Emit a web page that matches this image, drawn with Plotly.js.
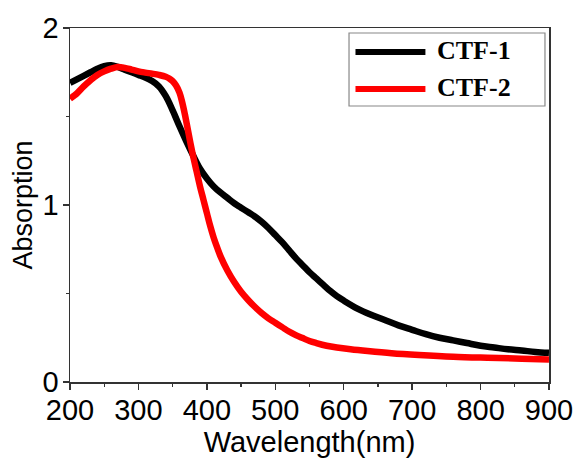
<!DOCTYPE html>
<html>
<head>
<meta charset="utf-8">
<script src="https://cdn.plot.ly/plotly-3.0.1.min.js"></script>
<style>html,body{margin:0;padding:0;background:#fff;}#chart{width:577px;height:462px;}</style>
</head>
<body>
<div id="chart"></div>
<script>
// CTF-1 (black)
const ctf1_wl = [200,210,220,230,240,250,260,270,280,290,300,310,320,330,340,350,360,370,380,390,400,410,420,430,440,450,460,470,480,490,500,510,520,530,540,550,560,570,580,590,600,620,640,660,680,700,720,740,760,780,800,820,840,860,880,900];
const ctf1_abs = [1.69,1.71,1.73,1.75,1.77,1.785,1.79,1.78,1.765,1.75,1.735,1.72,1.70,1.67,1.615,1.535,1.445,1.36,1.28,1.205,1.15,1.105,1.07,1.04,1.01,0.985,0.96,0.935,0.905,0.87,0.83,0.79,0.745,0.70,0.66,0.62,0.585,0.55,0.515,0.485,0.46,0.415,0.38,0.35,0.32,0.295,0.27,0.25,0.235,0.22,0.205,0.195,0.185,0.178,0.17,0.165];
// CTF-2 (red)
const ctf2_wl = [200,205,210,220,230,240,250,260,270,280,290,300,310,320,330,340,345,350,355,360,364,368,372,376,380,385,390,395,400,405,410,415,420,430,440,450,460,470,480,490,500,510,520,530,540,550,560,575,590,610,635,670,710,760,810,860,900];
const ctf2_abs = [1.60,1.615,1.63,1.67,1.705,1.735,1.755,1.77,1.78,1.775,1.765,1.755,1.748,1.742,1.735,1.725,1.715,1.70,1.675,1.635,1.58,1.51,1.43,1.35,1.275,1.19,1.105,1.03,0.955,0.88,0.815,0.76,0.71,0.63,0.565,0.51,0.465,0.425,0.39,0.36,0.335,0.31,0.285,0.265,0.248,0.232,0.22,0.205,0.195,0.185,0.175,0.163,0.153,0.143,0.137,0.132,0.127];
const seriesNames = ["CTF-1","CTF-2"];
const seriesColors = ["#000000","#ff0000"];
const xTicks = [200,300,400,500,600,700,800,900];
const yTicks = [0,1,2];

const traces = [
  {x: ctf1_wl, y: ctf1_abs, name: seriesNames[0], type: 'scatter', mode: 'lines', line: {color: seriesColors[0], width: 6.5, shape: 'spline', smoothing: 1}},
  {x: ctf2_wl, y: ctf2_abs, name: seriesNames[1], type: 'scatter', mode: 'lines', line: {color: seriesColors[1], width: 6.5, shape: 'spline', smoothing: 1}}
];

const sansFont = {family: '"Liberation Sans", Arial, sans-serif', size: 29, color: '#000'};
const legFont = {family: '"Liberation Serif", "Times New Roman", serif', size: 26, color: '#000', weight: 'bold'};

const layout = {
  width: 577, height: 462,
  margin: {l: 70, r: 28, t: 28, b: 80},
  paper_bgcolor: '#fff', plot_bgcolor: '#fff',
  showlegend: false,
  xaxis: {
    range: [200, 900], tickvals: xTicks, ticktext: xTicks.map(String),
    ticks: 'outside', ticklen: 6, tickwidth: 1.3, tickcolor: '#333',
    minor: {dtick: 50, tick0: 200, ticks: 'outside', ticklen: 3, tickwidth: 1.2, tickcolor: '#333', showgrid: false},
    showline: true, linecolor: '#333', linewidth: 1.5, mirror: true,
    showgrid: false, zeroline: false, tickfont: sansFont, ticklabelstandoff: -4,
    title: {text: 'Wavelength(nm)', font: {family: sansFont.family, size: 29, color: '#000'}, standoff: 0}
  },
  yaxis: {
    range: [0, 2], tickvals: yTicks, ticktext: yTicks.map(String),
    ticks: 'outside', ticklen: 6, tickwidth: 1.3, tickcolor: '#333',
    minor: {dtick: 0.5, tick0: 0, ticks: 'outside', ticklen: 3, tickwidth: 1.2, tickcolor: '#333', showgrid: false},
    showline: true, linecolor: '#333', linewidth: 1.5, mirror: true,
    showgrid: false, zeroline: false, tickfont: sansFont, ticklabelstandoff: -2,
    title: {text: 'Absorption', font: {family: sansFont.family, size: 27, color: '#000'}, standoff: 2}
  },
  shapes: [
    {type: 'rect', xref: 'paper', yref: 'paper', x0: 0.5825, x1: 0.9916, y0: 0.7797, y1: 0.9859, line: {color: '#888', width: 1.2}, fillcolor: '#fff'},
    {type: 'line', xref: 'paper', yref: 'paper', x0: 0.596, x1: 0.742, y0: 0.932, y1: 0.932, line: {color: seriesColors[0], width: 6}},
    {type: 'line', xref: 'paper', yref: 'paper', x0: 0.596, x1: 0.742, y0: 0.828, y1: 0.828, line: {color: seriesColors[1], width: 6}}
  ],
  annotations: [
    {xref: 'paper', yref: 'paper', x: 0.762, y: 0.936, xanchor: 'left', yanchor: 'middle', text: '<b>' + seriesNames[0] + '</b>', showarrow: false, font: legFont},
    {xref: 'paper', yref: 'paper', x: 0.762, y: 0.832, xanchor: 'left', yanchor: 'middle', text: '<b>' + seriesNames[1] + '</b>', showarrow: false, font: legFont}
  ]
};

Plotly.newPlot('chart', traces, layout, {displayModeBar: false, staticPlot: true});
</script>
</body>
</html>
